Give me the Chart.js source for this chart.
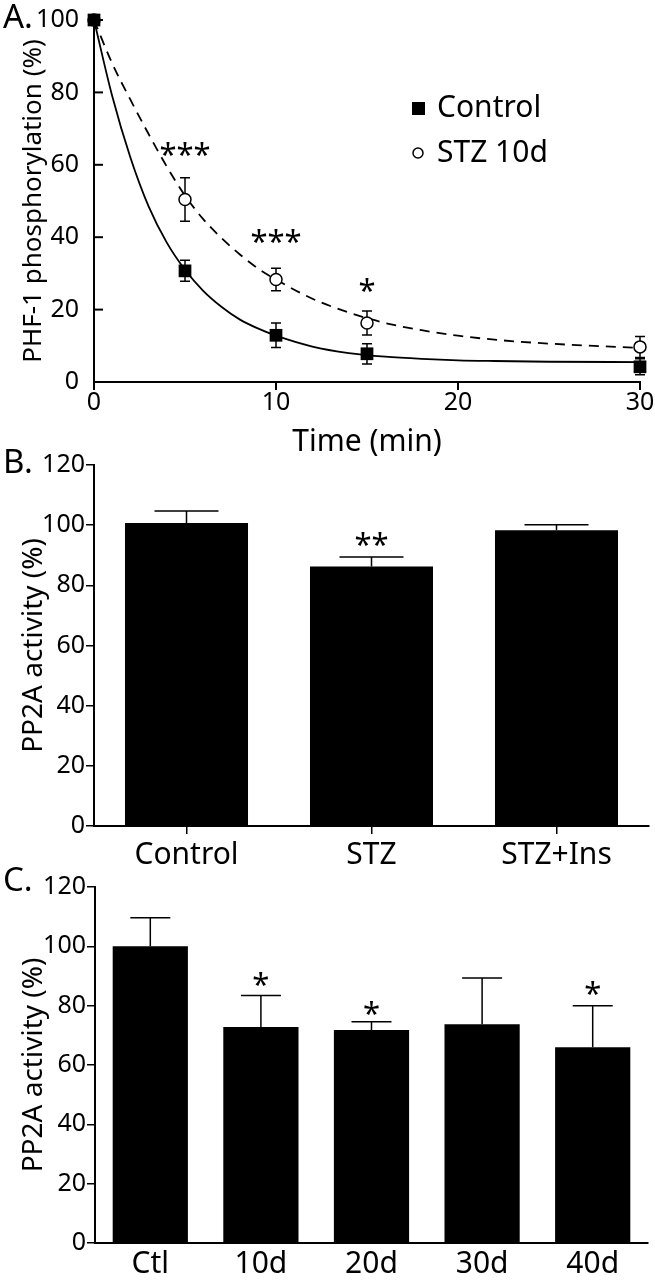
<!DOCTYPE html>
<html>
<head>
<meta charset="utf-8">
<script src="https://cdn.jsdelivr.net/npm/chart.js@4.4.0/dist/chart.umd.min.js"></script>
<style>
  body { margin: 0; background: #fff; width: 655px; height: 1280px; position: relative; overflow: hidden; font-family: "Noto Sans", sans-serif; }
  canvas { position: absolute; left: 0; }
  .panel { position: absolute; left: 3px; font-size: 33px; line-height: 1; color: #000; }
</style>
</head>
<body>
<canvas id="chartA" width="655" height="462" style="top:0px"></canvas>
<canvas id="chartB" width="655" height="440" style="top:440px"></canvas>
<canvas id="chartC" width="655" height="420" style="top:860px"></canvas>
<div class="panel" style="top:-1px">A.</div>
<div class="panel" style="top:444px">B.</div>
<div class="panel" style="top:862px">C.</div>

<script>
// Panel A - dephosphorylation time course
const timePoints = [0, 5, 10, 15, 30];
const controlMean = [100, 30.7, 12.9, 7.8, 4.2];
const controlSem = [0, 2.9, 3.4, 2.8, 2.2];
const stzMean = [100, 50.4, 28.3, 16.3, 9.7];
const stzSem = [0, 6.0, 3.1, 3.3, 2.9];

// fitted curves
const fitTime = [0, 1, 2, 3, 4, 5, 6, 7, 8, 9, 10, 12, 14, 16, 18, 20, 22, 25, 30];
const controlFit = [100, 79, 62, 48.5, 38.5, 31, 25.2, 20.8, 17.3, 14.8, 12.8, 9.8, 8.0, 7.0, 6.4, 6.0, 5.8, 5.6, 5.5];
const stzFit = [100, 88, 78, 68.5, 59.5, 51.5, 45, 39.8, 35.3, 31.4, 28.3, 23, 19.2, 16.3, 14.3, 12.8, 11.7, 10.6, 9.4];

const sigTimeA = [5, 10, 15];
const sigLevelA = [64.7, 40.6, 27.1];
const sigTextA = ['***', '***', '*'];

// Panel B - PP2A activity
const groupB = ['Control', 'STZ', 'STZ+Ins'];
const meanB = [100.7, 86.3, 98.3];
const semB = [4.0, 3.1, 1.8];
const sigIndexB = [1];
const sigLevelB = [96];
const sigTextB = ['**'];

// Panel C - PP2A activity over time
const groupC = ['Ctl', '10d', '20d', '30d', '40d'];
const meanC = [100, 72.8, 71.8, 73.7, 66];
const semC = [9.6, 10.6, 2.8, 15.6, 14];
const sigIndexC = [1, 2, 4];
const sigLevelC = [89.3, 79.6, 86.3];
const sigTextC = ['*', '*', '*'];

Chart.defaults.font.family = '"Noto Sans", sans-serif';
Chart.defaults.color = '#000';

const FONT = '"Noto Sans", sans-serif';

function drawStars(chart, xs, levels, texts, size) {
    const ctx = chart.ctx;
    ctx.save();
    ctx.fillStyle = '#000';
    ctx.font = size + 'px ' + FONT;
    ctx.textAlign = 'center';
    ctx.textBaseline = 'alphabetic';
    xs.forEach((xv, i) => {
        const px = chart.scales.x.getPixelForValue(xv);
        const py = chart.scales.y.getPixelForValue(levels[i]);
        ctx.fillText(texts[i], px, py + size * 0.56);
    });
    ctx.restore();
}

function drawBarErrors(chart, means, sems, half) {
    const ctx = chart.ctx;
    const y = chart.scales.y;
    const meta = chart.getDatasetMeta(0);
    ctx.save();
    ctx.strokeStyle = '#000';
    ctx.lineWidth = 1.5;
    meta.data.forEach((bar, i) => {
        const top = y.getPixelForValue(means[i] + sems[i]);
        ctx.beginPath();
        ctx.moveTo(bar.x, bar.y);
        ctx.lineTo(bar.x, top);
        ctx.moveTo(bar.x - half, top);
        ctx.lineTo(bar.x + half, top);
        ctx.stroke();
    });
    ctx.restore();
}

const panelAExtras = {
    id: 'panelAExtras',
    beforeDatasetsDraw(chart) {
        const { ctx, scales: { x, y } } = chart;
        ctx.save();
        ctx.strokeStyle = '#000';
        ctx.lineWidth = 1.5;
        [[controlMean, controlSem], [stzMean, stzSem]].forEach(([m, s]) => {
            timePoints.forEach((t, i) => {
                if (!s[i]) return;
                const px = x.getPixelForValue(t);
                const top = y.getPixelForValue(m[i] + s[i]);
                const bot = y.getPixelForValue(m[i] - s[i]);
                ctx.beginPath();
                ctx.moveTo(px, top); ctx.lineTo(px, bot);
                ctx.moveTo(px - 5, top); ctx.lineTo(px + 5, top);
                ctx.moveTo(px - 5, bot); ctx.lineTo(px + 5, bot);
                ctx.stroke();
            });
        });
        ctx.restore();
    },
    afterDraw(chart) {
        const { ctx, scales: { y }, chartArea } = chart;
        // inward y ticks
        ctx.save();
        ctx.strokeStyle = '#000';
        ctx.lineWidth = 2;
        y.ticks.forEach(tk => {
            const py = y.getPixelForValue(tk.value);
            ctx.beginPath();
            ctx.moveTo(chartArea.left, py);
            ctx.lineTo(chartArea.left + 9, py);
            ctx.stroke();
        });
        // legend
        ctx.fillStyle = '#000';
        ctx.fillRect(412, 102, 13, 13);
        ctx.beginPath();
        ctx.arc(418, 153, 5, 0, Math.PI * 2);
        ctx.fillStyle = '#fff';
        ctx.fill();
        ctx.lineWidth = 1.5;
        ctx.stroke();
        ctx.fillStyle = '#000';
        ctx.font = '30px ' + FONT;
        ctx.textBaseline = 'middle';
        ctx.textAlign = 'left';
        ctx.fillText('Control', 437, 108);
        ctx.fillText('STZ 10d', 437, 153);
        ctx.restore();
        drawStars(chart, sigTimeA, sigLevelA, sigTextA, 31);
    }
};

const pts = (xs, ys) => xs.map((v, i) => ({ x: v, y: ys[i] }));

new Chart(document.getElementById('chartA'), {
    type: 'scatter',
    data: {
        datasets: [
            {
                data: pts(timePoints, controlMean),
                pointStyle: 'rect', pointRadius: 9,
                backgroundColor: '#000', borderColor: '#000', borderWidth: 0,
                clip: false
            },
            {
                data: pts(timePoints, stzMean),
                pointStyle: 'circle', pointRadius: 6,
                backgroundColor: '#fff', borderColor: '#000', borderWidth: 1.5,
                clip: false
            },
            {
                data: pts(fitTime, controlFit),
                showLine: true, pointRadius: 0,
                borderColor: '#000', borderWidth: 1.8,
                cubicInterpolationMode: 'monotone', clip: false
            },
            {
                data: pts(fitTime, stzFit),
                showLine: true, pointRadius: 0,
                borderColor: '#000', borderWidth: 1.8, borderDash: [10, 7],
                cubicInterpolationMode: 'monotone', clip: false
            }
        ]
    },
    options: {
        responsive: false,
        animation: false,
        devicePixelRatio: 1,
        events: [],
        layout: { padding: { top: 20, right: 15, left: 0, bottom: 0 } },
        plugins: { legend: { display: false }, tooltip: { enabled: false } },
        scales: {
            x: {
                type: 'linear', min: 0, max: 30,
                ticks: { stepSize: 10, font: { size: 25, lineHeight: 1 }, color: '#000', padding: 0 },
                grid: { display: true, drawOnChartArea: false, tickLength: 8, color: '#000', lineWidth: 2 },
                border: { display: true, color: '#000', width: 2 },
                title: { display: true, text: 'Time (min)', color: '#000', font: { size: 30, lineHeight: 1.2 }, padding: { top: 0, bottom: 2 } },
                afterFit(s) { s.height = 80; }
            },
            y: {
                min: 0, max: 100,
                ticks: { stepSize: 20, font: { size: 25, lineHeight: 1 }, color: '#000', padding: 7 },
                grid: { display: false },
                border: { display: true, color: '#000', width: 2 },
                title: { display: true, text: 'PHF-1 phosphorylation (%)', color: '#000', font: { size: 26, lineHeight: 1.2 }, padding: { top: 18, bottom: 0 } },
                afterFit(s) { s.width = 94; }
            }
        }
    },
    plugins: [panelAExtras]
});

function barOptions(padTop, xHeight, yWidth, padRight, drawXTicks) {
    return {
        responsive: false,
        animation: false,
        devicePixelRatio: 1,
        events: [],
        layout: { padding: { top: padTop, right: padRight, left: 0, bottom: 0 } },
        plugins: { legend: { display: false }, tooltip: { enabled: false } },
        scales: {
            x: {
                ticks: { font: { size: 30, lineHeight: 1 }, color: '#000', padding: 6 },
                grid: { display: true, drawOnChartArea: false, drawTicks: drawXTicks, offset: false, tickLength: 8, color: '#000', lineWidth: 1.5 },
                border: { display: true, color: '#000', width: 2 },
                afterFit(s) { s.height = xHeight; }
            },
            y: {
                min: 0, max: 120,
                ticks: { stepSize: 20, font: { size: 25, lineHeight: 1 }, color: '#000', padding: 1 },
                grid: { display: true, drawOnChartArea: false, tickLength: 8, color: '#000', lineWidth: 1.5 },
                border: { display: true, color: '#000', width: 2 },
                title: { display: true, text: 'PP2A activity (%)', color: '#000', font: { size: 28, lineHeight: 1.2 }, padding: { top: 17, bottom: 0 } },
                afterFit(s) { s.width = yWidth; }
            }
        }
    };
}

new Chart(document.getElementById('chartB'), {
    type: 'bar',
    data: {
        labels: groupB,
        datasets: [{ data: meanB, backgroundColor: '#000', barPercentage: 0.665, categoryPercentage: 1.0 }]
    },
    options: barOptions(25, 54, 94, 6, true),
    plugins: [{
        id: 'panelBExtras',
        afterDatasetsDraw(chart) {
            drawBarErrors(chart, meanB, semB, 32);
            drawStars(chart, sigIndexB, sigLevelB, sigTextB, 31);
        }
    }]
});

new Chart(document.getElementById('chartC'), {
    type: 'bar',
    data: {
        labels: groupC,
        datasets: [{ data: meanC, backgroundColor: '#000', barPercentage: 0.68, categoryPercentage: 1.0 }]
    },
    options: barOptions(27, 37, 95, 7, false),
    plugins: [{
        id: 'panelCExtras',
        afterDatasetsDraw(chart) {
            drawBarErrors(chart, meanC, semC, 20);
            drawStars(chart, sigIndexC, sigLevelC, sigTextC, 31);
        }
    }]
});
</script>
</body>
</html>
